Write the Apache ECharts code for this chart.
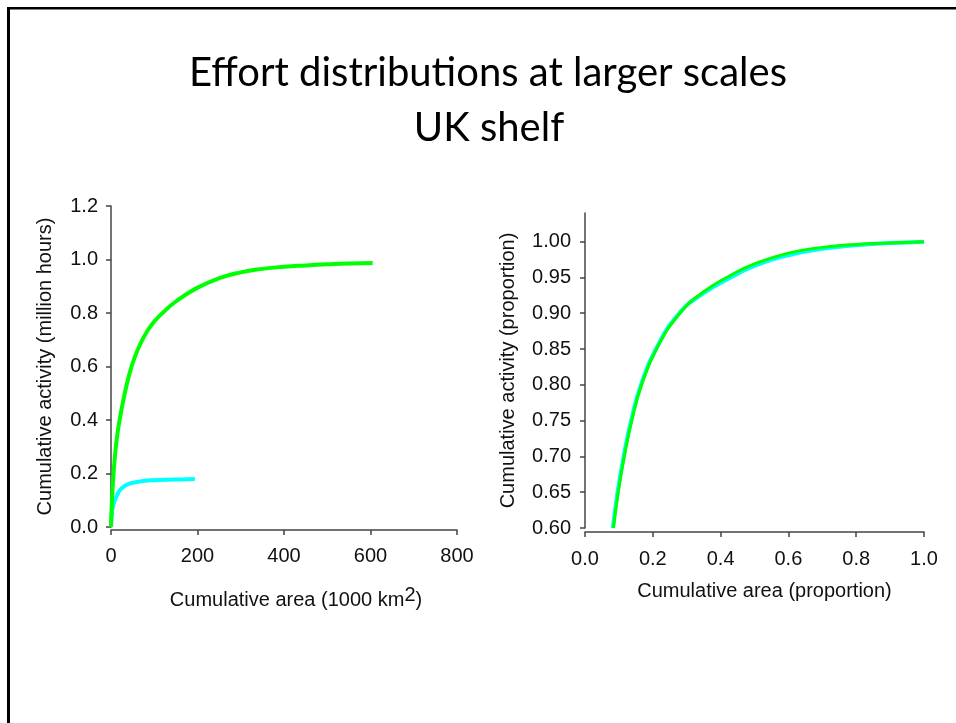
<!DOCTYPE html>
<html>
<head>
<meta charset="utf-8">
<script src="https://cdn.jsdelivr.net/npm/echarts@6/dist/echarts.min.js"></script>
<style>
html, body { margin: 0; padding: 0; background: #fff; }
#chart { width: 956px; height: 723px; }
</style>
</head>
<body>
<div id="chart"></div>
<script>
const TITLE_LINES = ['Effort distributions at larger scales', 'UK shelf'];

// left panel: cumulative area (1000 km2) vs cumulative activity (million hours)
const areaGreen = [0, 2, 5, 10, 15, 21, 28, 36, 44, 55, 68, 83, 100, 121, 150, 198, 250, 300, 350, 400, 450, 500, 550, 605];
const hoursGreen = [0, 0.09, 0.18, 0.28, 0.35, 0.41, 0.47, 0.53, 0.58, 0.635, 0.685, 0.73, 0.768, 0.803, 0.843, 0.893, 0.93, 0.952, 0.965, 0.973, 0.978, 0.982, 0.985, 0.987];
const areaCyan = [0, 2, 5, 9, 15, 21, 30, 44, 60, 75, 100, 130, 160, 194];
const hoursCyan = [0, 0.05, 0.08, 0.1, 0.122, 0.138, 0.152, 0.163, 0.168, 0.172, 0.175, 0.177, 0.178, 0.179];

// right panel: both as proportions
const propAreaGreen = [0.084, 0.098, 0.116, 0.138, 0.167, 0.211, 0.28, 0.35, 0.43, 0.5, 0.6, 0.7, 0.8, 0.9, 1.0];
const propActGreen = [0.60, 0.65, 0.70, 0.75, 0.80, 0.85, 0.90, 0.93, 0.953, 0.969, 0.984, 0.992, 0.996, 0.998, 1.0];
const propAreaCyan = [0.082, 0.096, 0.114, 0.136, 0.165, 0.209, 0.278, 0.35, 0.43, 0.5, 0.6, 0.7, 0.8, 0.9, 1.0];
const propActCyan = [0.60, 0.65, 0.70, 0.75, 0.80, 0.85, 0.90, 0.928, 0.95, 0.966, 0.981, 0.99, 0.995, 0.998, 1.0];

const propActTicks = [0.6, 0.65, 0.7, 0.75, 0.8, 0.85, 0.9, 0.95, 1.0];

const FONT = "'Liberation Sans', Arial, sans-serif";
const AXIS_COLOR = '#444';
const LABEL_COLOR = '#111';
const GREEN = '#00ff00';
const CYAN = '#00ffff';

const pairs = (xs, ys) => xs.map((x, i) => [x, ys[i]]);

function axisBase(extra) {
    return Object.assign({
        type: 'value',
        splitLine: {show: false},
        axisLine: {show: true, onZero: false, lineStyle: {color: AXIS_COLOR, width: 1.5}},
        axisTick: {show: true, inside: false, length: 5, lineStyle: {color: AXIS_COLOR, width: 1.5}},
        nameLocation: 'middle',
        nameTextStyle: {fontFamily: FONT, fontSize: 20, color: LABEL_COLOR},
    }, extra);
}

function lineSeries(name, xi, yi, data, color, width) {
    return {
        name: name,
        type: 'line',
        xAxisIndex: xi,
        yAxisIndex: yi,
        data: data,
        showSymbol: false,
        smooth: 0.5,
        lineStyle: {color: color, width: width},
        itemStyle: {color: color},
        z: 3,
    };
}

const chart = echarts.init(document.getElementById('chart'));

chart.setOption({
    backgroundColor: '#fff',
    animation: false,
    graphic: [
        {type: 'rect', shape: {x: 7, y: 7, width: 949, height: 2.5}, style: {fill: '#000'}},
        {type: 'rect', shape: {x: 7, y: 7, width: 3, height: 716}, style: {fill: '#000'}},
        {
            type: 'text', x: 488, y: 73,
            style: {text: TITLE_LINES[0], font: "40px Lato, 'Open Sans', sans-serif", fill: '#000', align: 'center', verticalAlign: 'middle'},
        },
        {
            type: 'text', x: 489, y: 128,
            style: {text: TITLE_LINES[1], font: "40px Lato, 'Open Sans', sans-serif", fill: '#000', align: 'center', verticalAlign: 'middle'},
        },
    ],
    grid: [
        {left: 111, top: 206, width: 346, height: 321, outerBoundsMode: 'none', containLabel: false},
        {left: 585, top: 213, width: 339, height: 315, outerBoundsMode: 'none', containLabel: false},
    ],
    xAxis: [
        axisBase({
            gridIndex: 0, min: 0, max: 800, interval: 200, offset: 3,
            name: '{a|Cumulative area (1000 km}{s|2}{a|)}',
            nameGap: 55,
            nameTextStyle: {
                fontFamily: FONT, fontSize: 20, color: LABEL_COLOR, padding: [0, 0, 0, 24],
                rich: {
                    a: {fontFamily: FONT, fontSize: 20, color: LABEL_COLOR},
                    s: {fontFamily: FONT, fontSize: 20, color: LABEL_COLOR, padding: [0, 0, 10, 0]},
                },
            },
            axisLabel: {fontFamily: FONT, fontSize: 20, color: LABEL_COLOR, margin: 16},
        }),
        axisBase({
            gridIndex: 1, min: 0, max: 1, interval: 0.2, offset: 4,
            name: 'Cumulative area (proportion)',
            nameGap: 49,
            nameTextStyle: {fontFamily: FONT, fontSize: 20, color: LABEL_COLOR, padding: [0, 0, 0, 20]},
            axisLabel: {fontFamily: FONT, fontSize: 20, color: LABEL_COLOR, margin: 17, formatter: (v) => v.toFixed(1)},
        }),
    ],
    yAxis: [
        axisBase({
            gridIndex: 0, min: 0, max: 1.2, interval: 0.2,
            name: 'Cumulative activity (million hours)',
            nameGap: 56,
            axisLabel: {fontFamily: FONT, fontSize: 20, color: LABEL_COLOR, margin: 13, formatter: (v) => v.toFixed(1)},
        }),
        axisBase({
            gridIndex: 1, min: 0.6, max: 1.04, interval: 0.05,
            name: 'Cumulative activity (proportion)',
            nameGap: 67,
            axisTick: {show: true, length: 5, lineStyle: {color: AXIS_COLOR, width: 1.5}, customValues: propActTicks},
            axisLabel: {fontFamily: FONT, fontSize: 20, color: LABEL_COLOR, margin: 14, customValues: propActTicks, formatter: (v) => v.toFixed(2)},
        }),
    ],
    series: [
        lineSeries('cyan-abs', 0, 0, pairs(areaCyan, hoursCyan), CYAN, 4),
        lineSeries('green-abs', 0, 0, pairs(areaGreen, hoursGreen), GREEN, 4),
        lineSeries('cyan-prop', 1, 1, pairs(propAreaCyan, propActCyan), CYAN, 4),
        lineSeries('green-prop', 1, 1, pairs(propAreaGreen, propActGreen), GREEN, 3),
    ],
});
</script>
</body>
</html>
